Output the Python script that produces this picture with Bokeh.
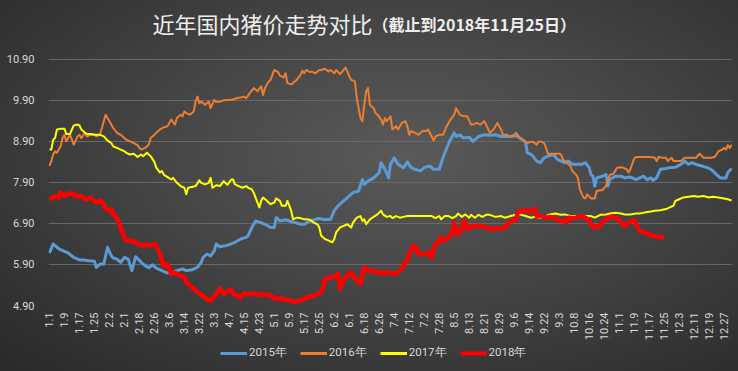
from bokeh.plotting import figure
from bokeh.layouts import column
from bokeh.models import (Range1d, FixedTicker, PrintfTickFormatter, Legend, LegendItem, Label)
from bokeh.embed import file_html
from bokeh.resources import INLINE

# ---- data (day index 0 = Jan 1) ----
tick_labels = ["1.1", "1.9", "1.17", "1.25", "2.2", "2.1", "2.18", "2.26", "3.6", "3.14", "3.22", "3.3",
               "4.7", "4.15", "4.23", "5.1", "5.9", "5.17", "5.25", "6.2", "6.1", "6.18", "6.26", "7.4",
               "7.12", "7.2", "7.28", "8.5", "8.13", "8.21", "8.29", "9.6", "9.14", "9.22", "9.3", "10.8",
               "10.16", "10.24", "11.1", "11.9", "11.17", "11.25", "12.3", "12.11", "12.19", "12.27"]
tick_days = [i * 8 for i in range(len(tick_labels))]
y_ticks = [4.90, 5.90, 6.90, 7.90, 8.90, 9.90, 10.90]

days_2015 = [0, 2, 5, 8, 10, 13, 16, 18, 21, 24, 25, 27, 29, 31, 33, 34, 36, 38, 40, 42, 44, 46, 49, 51, 53, 55, 57,
             60, 63, 65, 68, 71, 73, 76, 79, 81, 82, 84, 86, 88, 89, 91, 94, 97, 99, 102, 105, 106, 108, 110,
             113, 115, 118, 120, 121, 123, 126, 128, 131, 134, 136, 139, 142, 144, 147, 150, 152, 154, 157, 160,
             162, 165, 167, 168, 170, 173, 176, 177, 179, 181, 182, 184, 186, 189, 191, 193, 195, 198, 200, 203,
             205, 208, 210, 212, 214, 216, 217, 219, 221, 224, 226, 229, 232, 235, 238, 241, 243, 246, 249, 251,
             254, 255, 257, 258, 260, 262, 264, 266, 269, 271, 273, 275, 277, 279, 281, 284, 286, 288, 289, 290,
             291, 292, 295, 297, 298, 299, 302, 305, 307, 310, 313, 315, 317, 319, 321, 322, 324, 326, 329, 331,
             334, 337, 339, 341, 343, 345, 348, 351, 353, 354, 356, 358, 361, 362, 364]
price_2015 = [6.18, 6.40, 6.28, 6.22, 6.18, 6.07, 6.01, 6.01, 5.99, 5.98, 5.83, 5.91, 5.91, 6.32, 6.11, 6.06, 6.03,
              5.95, 6.07, 6.03, 5.75, 6.09, 5.95, 5.87, 5.82, 5.89, 5.81, 5.75, 5.69, 5.71, 5.75, 5.79, 5.75, 5.77,
              5.83, 5.95, 6.07, 6.15, 6.11, 6.24, 6.40, 6.33, 6.36, 6.40, 6.44, 6.52, 6.56, 6.60, 6.80, 6.96,
              6.92, 6.88, 6.80, 6.80, 7.04, 6.96, 6.99, 6.96, 6.92, 6.88, 6.88, 6.96, 7.00, 7.02, 6.99, 7.00,
              7.21, 7.33, 7.45, 7.57, 7.65, 7.69, 7.97, 7.85, 7.93, 8.01, 8.14, 8.38, 8.22, 8.01, 8.34, 8.50,
              8.34, 8.26, 8.40, 8.26, 8.22, 8.18, 8.26, 8.30, 8.22, 8.22, 8.50, 8.74, 8.94, 9.11, 9.02, 9.06,
              8.98, 9.00, 8.90, 9.02, 9.06, 9.05, 9.06, 9.02, 9.02, 9.02, 9.04, 8.98, 8.89, 8.62, 8.58, 8.54,
              8.42, 8.38, 8.50, 8.54, 8.58, 8.46, 8.42, 8.38, 8.42, 8.34, 8.34, 8.34, 8.38, 8.26, 8.09, 8.05,
              7.81, 8.01, 8.05, 8.09, 7.81, 7.97, 8.05, 8.05, 8.01, 8.03, 7.97, 8.01, 8.05, 7.97, 8.01, 7.95,
              8.01, 8.22, 8.24, 8.26, 8.27, 8.34, 8.42, 8.34, 8.38, 8.34, 8.30, 8.26, 8.22, 8.18, 8.09, 8.01,
              8.01, 8.14, 8.24]

days_2016 = [0, 1, 2, 3, 4, 6, 7, 8, 9, 11, 12, 13, 15, 16, 17, 19, 20, 22, 24, 25, 27, 29, 30, 32, 33, 34, 36,
             38, 40, 41, 43, 45, 47, 48, 49, 51, 53, 54, 56, 57, 59, 61, 63, 64, 65, 67, 68, 70, 71, 72, 73, 75,
             77, 78, 79, 80, 81, 83, 85, 86, 88, 89, 91, 93, 95, 97, 100, 102, 104, 105, 107, 109, 111, 113, 114,
             115, 117, 118, 120, 122, 123, 125, 126, 127, 129, 130, 132, 134, 135, 136, 137, 139, 140, 142, 144,
             145, 147, 149, 150, 152, 153, 155, 157, 158, 159, 160, 161, 163, 164, 166, 167, 168, 169, 170, 171,
             173, 174, 175, 177, 178, 179, 180, 182, 183, 185, 186, 188, 190, 191, 192, 193, 195, 197, 199, 201,
             202, 204, 205, 206, 208, 210, 212, 214, 216, 217, 219, 221, 223, 225, 226, 228, 230, 232, 233, 235,
             237, 238, 239, 241, 242, 244, 246, 248, 249, 251, 253, 255, 257, 258, 260, 261, 262, 264, 265, 266,
             268, 270, 272, 273, 274, 276, 278, 279, 281, 282, 283, 285, 286, 287, 289, 290, 291, 292, 294, 295,
             297, 298, 299, 301, 303, 305, 306, 308, 309, 310, 312, 313, 316, 319, 321, 323, 324, 325, 327, 329,
             330, 332, 333, 335, 337, 339, 342, 345, 347, 349, 351, 353, 355, 357, 359, 360, 361, 362, 363, 364]
price_2016 = [8.30, 8.42, 8.58, 8.66, 8.62, 8.78, 8.98, 9.06, 8.90, 9.06, 8.94, 8.82, 9.02, 9.06, 8.98, 9.11,
              9.02, 9.06, 9.06, 9.02, 9.06, 9.39, 9.55, 9.39, 9.31, 9.23, 9.11, 9.06, 8.98, 8.94, 8.90, 8.86,
              8.81, 8.74, 8.70, 8.74, 8.82, 8.98, 9.06, 9.11, 9.19, 9.24, 9.27, 9.35, 9.43, 9.31, 9.47, 9.55,
              9.51, 9.63, 9.59, 9.55, 9.63, 9.87, 9.99, 9.83, 9.87, 9.79, 9.87, 9.71, 9.91, 9.86, 9.87, 9.90,
              9.91, 9.91, 9.95, 9.97, 9.99, 9.95, 10.08, 10.20, 10.12, 10.24, 10.03, 10.20, 10.36, 10.40,
              10.64, 10.59, 10.50, 10.46, 10.56, 10.32, 10.29, 10.32, 10.40, 10.52, 10.62, 10.56, 10.64, 10.59,
              10.60, 10.56, 10.64, 10.64, 10.67, 10.60, 10.64, 10.56, 10.64, 10.54, 10.64, 10.70, 10.60, 10.48,
              10.40, 10.36, 9.95, 9.47, 9.39, 9.79, 10.12, 10.20, 9.79, 9.71, 9.59, 9.55, 9.43, 9.31, 9.47,
              9.39, 9.51, 9.19, 9.27, 9.19, 9.35, 9.39, 9.27, 9.06, 9.15, 9.11, 9.06, 9.15, 9.15, 9.19, 9.02,
              8.92, 9.02, 9.06, 9.06, 9.27, 9.43, 9.55, 9.71, 9.55, 9.51, 9.51, 9.31, 9.31, 9.35, 9.31, 9.39,
              9.31, 9.11, 9.19, 9.27, 9.35, 9.19, 9.06, 9.06, 9.02, 9.06, 9.11, 8.98, 8.92, 8.86, 8.89, 8.89,
              8.82, 8.89, 8.90, 8.86, 8.74, 8.60, 8.60, 8.60, 8.60, 8.58, 8.46, 8.38, 8.30, 8.18, 8.09, 8.01,
              7.73, 7.53, 7.51, 7.61, 7.51, 7.51, 7.51, 7.69, 7.71, 7.71, 7.81, 7.97, 8.08, 8.11, 8.26, 8.27,
              8.26, 8.22, 8.14, 8.22, 8.48, 8.52, 8.52, 8.52, 8.52, 8.50, 8.42, 8.52, 8.50, 8.50, 8.42, 8.50,
              8.42, 8.42, 8.42, 8.50, 8.50, 8.50, 8.60, 8.50, 8.50, 8.50, 8.52, 8.66, 8.70, 8.74, 8.70, 8.81,
              8.74, 8.82]

days_2017 = [0, 1, 2, 3, 4, 6, 8, 9, 11, 12, 13, 15, 16, 17, 19, 20, 22, 24, 25, 27, 29, 31, 33, 34, 36, 38, 40,
             41, 43, 45, 47, 49, 50, 52, 54, 56, 57, 59, 60, 61, 63, 65, 66, 68, 70, 72, 73, 74, 76, 78, 80, 81,
             83, 85, 86, 87, 89, 91, 93, 95, 97, 98, 99, 101, 103, 105, 106, 108, 109, 110, 112, 113, 114, 116,
             118, 120, 121, 123, 124, 126, 127, 129, 130, 132, 134, 136, 137, 139, 141, 143, 144, 145, 147, 149,
             151, 152, 153, 155, 157, 159, 161, 162, 164, 166, 167, 168, 169, 171, 173, 175, 177, 178, 180, 182,
             183, 185, 187, 189, 191, 194, 198, 201, 204, 206, 208, 209, 211, 213, 215, 217, 218, 220, 222, 224,
             225, 227, 229, 231, 233, 235, 238, 241, 243, 246, 249, 251, 254, 257, 259, 262, 265, 267, 270, 273,
             275, 278, 281, 283, 286, 289, 291, 294, 297, 299, 302, 305, 307, 310, 313, 315, 318, 321, 323, 326,
             329, 331, 333, 334, 336, 338, 341, 344, 346, 349, 352, 354, 357, 360, 362, 364]
price_2017 = [8.70, 8.70, 8.94, 8.98, 9.19, 9.21, 9.21, 9.08, 9.08, 9.19, 9.29, 9.31, 9.29, 9.19, 9.11, 9.08,
              9.08, 9.06, 9.06, 9.06, 9.02, 8.92, 8.86, 8.78, 8.74, 8.70, 8.66, 8.62, 8.58, 8.60, 8.52, 8.58,
              8.54, 8.62, 8.54, 8.40, 8.26, 8.14, 8.18, 8.09, 8.03, 7.97, 8.01, 7.89, 7.81, 7.77, 7.61, 7.77,
              7.79, 7.81, 7.95, 7.89, 7.85, 7.89, 8.01, 7.77, 7.83, 7.81, 7.93, 7.84, 7.97, 7.97, 7.85, 7.81,
              7.77, 7.81, 7.77, 7.73, 7.65, 7.53, 7.29, 7.45, 7.53, 7.45, 7.37, 7.41, 7.51, 7.45, 7.33, 7.33,
              7.45, 7.21, 7.00, 7.04, 7.03, 7.00, 7.00, 6.99, 6.92, 6.88, 6.80, 6.60, 6.52, 6.48, 6.44, 6.52,
              6.68, 6.80, 6.84, 6.88, 6.80, 6.92, 7.04, 7.08, 6.96, 7.00, 6.88, 7.00, 7.06, 7.12, 7.21, 7.12,
              7.06, 7.08, 7.03, 7.08, 7.04, 7.06, 7.08, 7.08, 7.08, 7.08, 7.08, 7.03, 7.08, 7.00, 7.08, 7.08,
              7.03, 7.08, 7.14, 7.06, 7.12, 7.04, 7.11, 7.04, 7.11, 7.06, 7.11, 7.11, 7.06, 7.08, 7.04, 7.08,
              7.11, 7.12, 7.08, 7.04, 7.06, 7.04, 7.08, 7.12, 7.14, 7.11, 7.12, 7.08, 7.08, 7.06, 7.08, 7.08,
              7.04, 7.11, 7.12, 7.14, 7.16, 7.14, 7.12, 7.12, 7.14, 7.14, 7.17, 7.19, 7.21, 7.22, 7.25, 7.29,
              7.33, 7.45, 7.49, 7.53, 7.55, 7.57, 7.55, 7.57, 7.53, 7.55, 7.53, 7.51, 7.49, 7.46]

days_2018 = [0, 1, 3, 5, 6, 8, 9, 11, 13, 15, 17, 18, 20, 22, 24, 25, 27, 29, 30, 32, 33, 34, 36, 38, 40, 41, 43,
             45, 47, 49, 50, 52, 54, 56, 57, 59, 60, 61, 63, 65, 66, 68, 70, 72, 73, 75, 77, 79, 81, 82, 84, 86,
             88, 89, 91, 93, 95, 97, 98, 100, 102, 104, 105, 107, 109, 111, 113, 114, 116, 118, 121, 123, 126,
             129, 131, 133, 135, 137, 140, 143, 145, 146, 147, 149, 151, 153, 154, 155, 156, 158, 160, 161, 162,
             164, 166, 167, 168, 169, 171, 173, 175, 177, 178, 180, 182, 184, 185, 187, 189, 191, 193, 194, 196,
             197, 199, 201, 202, 204, 205, 206, 208, 209, 211, 212, 214, 215, 216, 217, 218, 220, 221, 222, 223,
             225, 226, 228, 230, 232, 233, 235, 238, 241, 243, 245, 247, 249, 250, 252, 254, 256, 257, 259, 260,
             262, 264, 265, 267, 269, 271, 273, 274, 276, 277, 279, 281, 282, 284, 286, 288, 289, 291, 293, 295,
             297, 298, 300, 302, 304, 305, 307, 309, 311, 312, 313, 315, 317, 320, 322, 325, 328]
price_2018 = [7.49, 7.51, 7.57, 7.53, 7.65, 7.57, 7.61, 7.63, 7.61, 7.55, 7.57, 7.51, 7.49, 7.53, 7.45, 7.41,
              7.46, 7.37, 7.25, 7.21, 7.25, 7.12, 7.04, 6.80, 6.56, 6.48, 6.48, 6.46, 6.40, 6.38, 6.36, 6.38,
              6.36, 6.40, 6.36, 6.15, 5.99, 5.87, 5.91, 5.67, 5.71, 5.67, 5.63, 5.59, 5.47, 5.39, 5.31, 5.22,
              5.17, 5.12, 5.06, 5.02, 5.12, 5.18, 5.31, 5.18, 5.25, 5.27, 5.18, 5.14, 5.10, 5.20, 5.18, 5.17,
              5.20, 5.17, 5.15, 5.17, 5.17, 5.14, 5.06, 5.08, 5.04, 5.02, 4.98, 5.01, 5.04, 5.09, 5.12, 5.18,
              5.22, 5.35, 5.55, 5.57, 5.60, 5.63, 5.67, 5.31, 5.43, 5.59, 5.67, 5.71, 5.63, 5.51, 5.43, 5.63,
              5.83, 5.79, 5.75, 5.73, 5.71, 5.71, 5.67, 5.71, 5.69, 5.67, 5.69, 5.75, 5.87, 6.03, 6.24, 6.36,
              6.30, 6.15, 6.15, 6.15, 6.20, 6.07, 6.28, 6.40, 6.44, 6.56, 6.48, 6.52, 6.60, 6.68, 6.92, 6.72,
              6.64, 6.76, 6.96, 6.92, 6.76, 6.80, 6.84, 6.84, 6.84, 6.82, 6.80, 6.76, 6.78, 6.78, 6.80, 6.92,
              6.96, 7.00, 7.17, 7.21, 7.22, 7.19, 7.22, 7.25, 7.08, 7.08, 7.06, 7.04, 7.06, 7.04, 7.00, 6.96,
              6.98, 6.92, 7.04, 7.03, 7.04, 7.06, 7.08, 7.04, 6.98, 6.88, 6.80, 6.82, 6.92, 7.00, 7.04, 7.06,
              7.04, 7.00, 6.92, 6.84, 6.92, 6.96, 6.98, 6.88, 6.72, 6.68, 6.64, 6.60, 6.57, 6.56]

series = [
    ("2015年", days_2015, price_2015, "#5b9bd5", 3),
    ("2016年", days_2016, price_2016, "#ed7d31", 2),
    ("2017年", days_2017, price_2017, "#ffff00", 2),
    ("2018年", days_2018, price_2018, "#ff0000", 4.5),
]

W = 738
H_MAIN, H_LEG = 343, 28
tick_font = "Roboto"
lab_color = "#d9d9d9"

# main chart: frame spans from the canvas top (title band inside it) down to the 4.90 gridline
p = figure(width=W, height=H_MAIN, output_backend="svg", toolbar_location=None,
           x_range=Range1d(-0.5, 364.5), y_range=Range1d(4.90, 12.333),
           min_border_left=48, min_border_right=6, min_border_top=0, min_border_bottom=37)
p.title.text = ""
p.background_fill_color = None
p.border_fill_color = None
p.outline_line_color = None

p.xaxis.ticker = FixedTicker(ticks=tick_days)
p.xaxis.major_label_overrides = {d: lab for d, lab in zip(tick_days, tick_labels)}
p.xaxis.major_label_orientation = 1.5708
p.xaxis.axis_line_color = None
p.xaxis.major_tick_line_color = None
p.xaxis.minor_tick_line_color = None
p.xaxis.major_tick_out = 0
p.xaxis.major_tick_in = 0
p.xaxis.major_label_standoff = 7
p.xaxis.major_label_text_font = tick_font
p.xaxis.major_label_text_font_size = "11px"
p.xaxis.major_label_text_color = lab_color

p.yaxis.ticker = FixedTicker(ticks=y_ticks)
p.yaxis.formatter = PrintfTickFormatter(format="%.2f")
p.yaxis.axis_line_color = None
p.yaxis.major_tick_line_color = None
p.yaxis.minor_tick_line_color = None
p.yaxis.major_tick_out = 0
p.yaxis.major_tick_in = 0
p.yaxis.major_label_standoff = 14
p.yaxis.major_label_text_font = tick_font
p.yaxis.major_label_text_font_size = "11px"
p.yaxis.major_label_text_color = lab_color

p.xgrid.visible = False
p.ygrid.ticker = FixedTicker(ticks=y_ticks)
p.ygrid.grid_line_color = "#686868"
p.ygrid.grid_line_width = 1

for name, d, v, c, w in series:
    p.line(d, v, line_color=c, line_width=w, line_join="round")

# title (two parts), placed in the empty top band of the frame
p.add_layout(Label(x=324, y=283, x_units="screen", y_units="screen", text="近年国内猪价走势对比",
                   text_align="right", text_baseline="middle", text_font="Noto Sans CJK SC",
                   text_font_size="22px", text_color="#eeeeee"))
p.add_layout(Label(x=324, y=282, x_units="screen", y_units="screen", text="（截止到2018年11月25日）",
                   text_align="left", text_baseline="middle", text_font="Noto Sans CJK SC",
                   text_font_size="16px", text_font_style="bold", text_color="#eeeeee"))

# legend strip below the axis labels (its frame is aligned with the main frame by the column)
lg = figure(width=W, height=H_LEG, output_backend="svg", toolbar_location=None,
            x_axis_location=None, y_axis_location=None,
            x_range=Range1d(0, 1), y_range=Range1d(0, 1), min_border=0)
lg.title.text = ""
lg.background_fill_color = None
lg.border_fill_color = None
lg.outline_line_color = None
lg.grid.visible = False
items = []
for name, d, v, c, w in series:
    # same series drawn in a strip whose ranges exclude it: only its legend swatch shows
    r = lg.line(d, v, line_color=c, line_width=max(3, min(w, 4)))
    items.append(LegendItem(label=name, renderers=[r]))
legend = Legend(items=items, orientation="horizontal", location=(172, 11),
                background_fill_alpha=0, border_line_color=None,
                label_text_color=lab_color, label_text_font=tick_font, label_text_font_size="11.5px",
                glyph_width=27, glyph_height=14, label_standoff=2, spacing=13, padding=0, margin=0,
                label_height=14)
lg.add_layout(legend, "center")

layout = column(p, lg, spacing=0,
                styles={"background": "radial-gradient(ellipse at 55% 42%, #5a5a5a 0%, #474747 40%, #292929 100%)"})

open("out.html", "w").write(file_html(layout, INLINE))
